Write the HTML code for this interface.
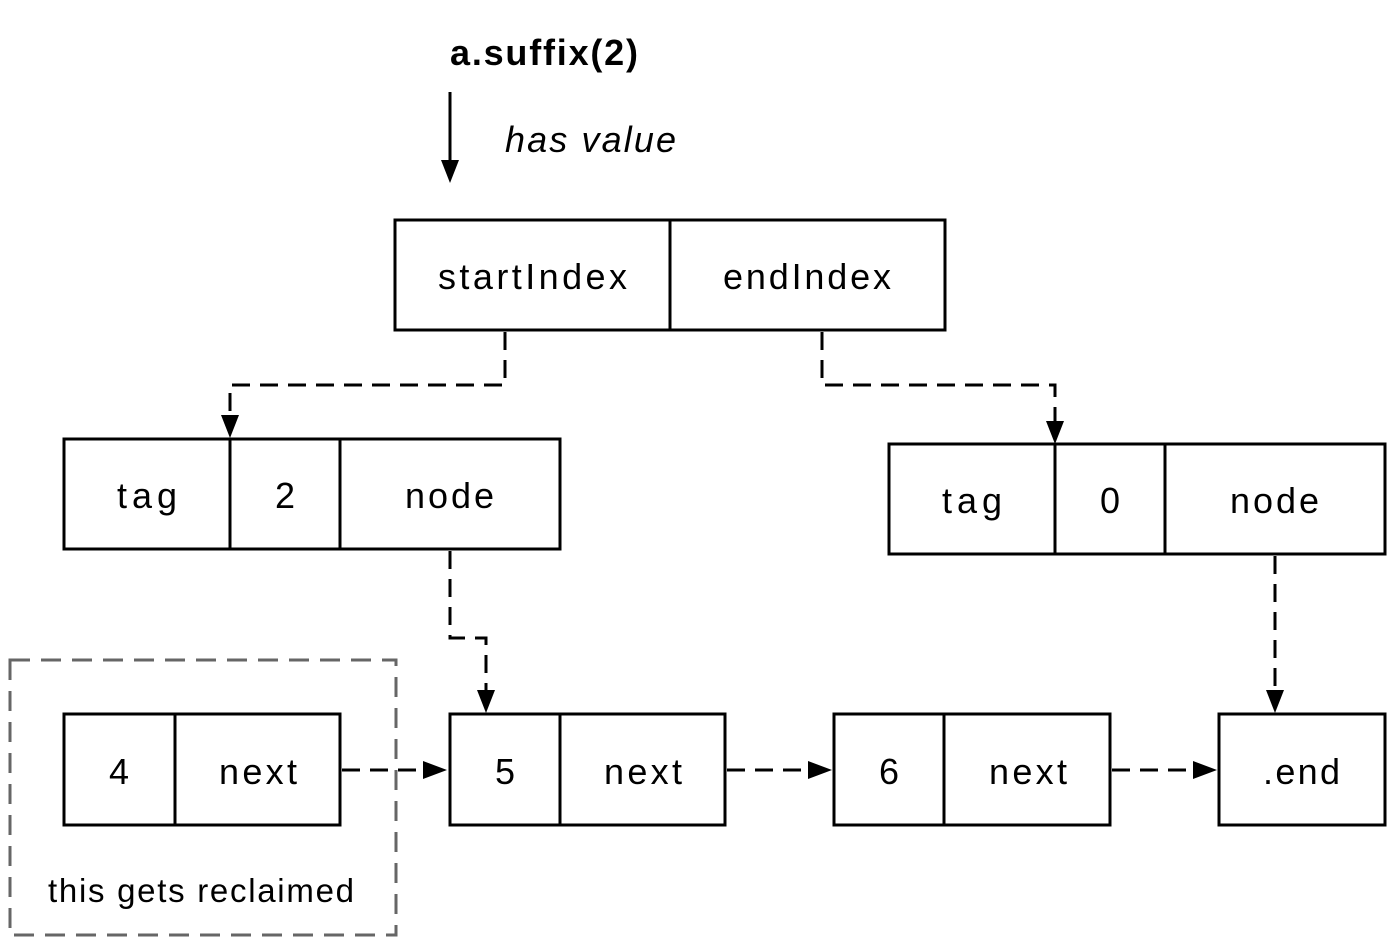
<!DOCTYPE html>
<html><head><meta charset="utf-8"><style>
html,body{margin:0;padding:0;background:#fff;}
svg{display:block;}
text{font-family:"Liberation Sans",sans-serif;font-size:36px;fill:#000;}
</style></head><body>
<svg width="1395" height="945" viewBox="0 0 1395 945" xmlns="http://www.w3.org/2000/svg">
<g stroke="#000" stroke-width="3" fill="none">
<line x1="450" y1="92" x2="450" y2="162"/>
<rect x="395" y="220" width="550" height="110"/>
<line x1="670" y1="220" x2="670" y2="330"/>
<rect x="64" y="439" width="496" height="110"/>
<line x1="230" y1="439" x2="230" y2="549"/>
<line x1="340" y1="439" x2="340" y2="549"/>
<rect x="889" y="444" width="496" height="110"/>
<line x1="1055" y1="444" x2="1055" y2="554"/>
<line x1="1165" y1="444" x2="1165" y2="554"/>
<rect x="64" y="714" width="276" height="111"/>
<line x1="175" y1="714" x2="175" y2="825"/>
<rect x="450" y="714" width="275" height="111"/>
<line x1="560" y1="714" x2="560" y2="825"/>
<rect x="834" y="714" width="276" height="111"/>
<line x1="944" y1="714" x2="944" y2="825"/>
<rect x="1219" y="714" width="166" height="111"/>
</g>
<g stroke="#000" stroke-width="3" fill="none" stroke-dasharray="18 10">
<polyline points="505,332 505,385 230,385 230,418"/>
<polyline points="822,332 822,385 1055,385 1055,424"/>
<polyline points="450,551 450,638 486,638 486,692"/>
<polyline points="1275,556 1275,692"/>
<line x1="342" y1="770" x2="425" y2="770"/>
<line x1="727" y1="770" x2="810" y2="770"/>
<line x1="1112" y1="770" x2="1195" y2="770"/>
</g>
<g fill="#000">
<polygon points="441,160 459,160 450,183"/>
<polygon points="221,415 239,415 230,438"/>
<polygon points="1046,421 1064,421 1055,444"/>
<polygon points="477,690 495,690 486,713"/>
<polygon points="1266,690 1284,690 1275,713"/>
<polygon points="423,761 423,779 447,770"/>
<polygon points="808,761 808,779 832,770"/>
<polygon points="1193,761 1193,779 1217,770"/>
</g>
<rect x="10" y="660" width="386" height="275" fill="none" stroke="#666" stroke-width="3" stroke-dasharray="20 11"/>
<text x="450" y="65" font-weight="bold" textLength="188" lengthAdjust="spacing">a.suffix(2)</text>
<text x="505" y="152" font-style="italic" textLength="171" lengthAdjust="spacing">has value</text>
<text x="438" y="289" textLength="189" lengthAdjust="spacing">startIndex</text>
<text x="723" y="289" textLength="168" lengthAdjust="spacing">endIndex</text>
<text x="117" y="508" textLength="60" lengthAdjust="spacing">tag</text>
<text x="285" y="508" text-anchor="middle">2</text>
<text x="405" y="508" textLength="89" lengthAdjust="spacing">node</text>
<text x="942" y="513" textLength="60" lengthAdjust="spacing">tag</text>
<text x="1110" y="513" text-anchor="middle">0</text>
<text x="1230" y="513" textLength="89" lengthAdjust="spacing">node</text>
<text x="119" y="784" text-anchor="middle">4</text>
<text x="219" y="784" textLength="78" lengthAdjust="spacing">next</text>
<text x="505" y="784" text-anchor="middle">5</text>
<text x="604" y="784" textLength="78" lengthAdjust="spacing">next</text>
<text x="889" y="784" text-anchor="middle">6</text>
<text x="989" y="784" textLength="78" lengthAdjust="spacing">next</text>
<text x="1263" y="784" textLength="77" lengthAdjust="spacing">.end</text>
<text x="48" y="902" style="font-size:33px" textLength="306" lengthAdjust="spacing">this gets reclaimed</text>
</svg>
</body></html>
